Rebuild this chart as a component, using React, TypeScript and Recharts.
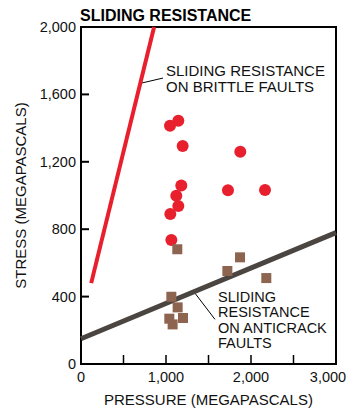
import { ScatterChart, Scatter, XAxis, YAxis, ReferenceArea, ReferenceLine, ReferenceDot } from 'recharts'

// brittle-fault measurements (red dots)
const brittleX = [1047, 1145, 1196, 1874, 1180, 1729, 2165, 1121, 1145, 1051, 1063]
const brittleY = [1414, 1444, 1294, 1260, 1060, 1031, 1033, 999, 938, 890, 736]

// anticrack-fault measurements (brown squares)
const anticrackX = [1133, 1722, 1871, 2180, 1063, 1137, 1039, 1200, 1078]
const anticrackY = [681, 552, 633, 510, 399, 336, 269, 273, 235]

// fitted resistance lines (end points)
const brittleLineX = [120, 860]
const brittleLineY = [480, 2000]
const anticrackLineX = [0, 3000]
const anticrackLineY = [150, 780]

const xTicks = [0, 500, 1000, 1500, 2000, 2500, 3000]
const xLabeled = [0, 1000, 2000, 3000]
const yTicks = [0, 400, 800, 1200, 1600, 2000]

const toPoints = (xs: number[], ys: number[]) => xs.map((x, i) => ({ x, y: ys[i] }))

const RED = '#e8202e'
const BROWN = '#8c6450'
const GRAY = '#4a4540'
const FONT = '"Liberation Sans", Arial, sans-serif'

const fmt = (v: number) => v.toLocaleString('en-US')

function XTick(props: any) {
  const { x, y, payload } = props
  const v = payload.value as number
  // last label is nudged left in the original so it stays inside the frame
  const dx = v === 3000 ? -8 : 0
  return (
    <g>
      <line x1={x} x2={x} y1={y - 5} y2={y - 14} stroke="#000" strokeWidth={1.5} />
      {xLabeled.includes(v) && (
        <text x={x + dx} y={y + 13} textAnchor="middle" fontSize={14.5} fill="#111" fontFamily={FONT}>
          {fmt(v)}
        </text>
      )}
    </g>
  )
}

function YTick(props: any) {
  const { x, y, payload } = props
  return (
    <g>
      <line x1={x + 5} x2={x + 13} y1={y} y2={y} stroke="#000" strokeWidth={2} />
      <text x={x} y={y + 5} textAnchor="end" fontSize={14.5} fill="#111" fontFamily={FONT}>
        {fmt(payload.value)}
      </text>
    </g>
  )
}

const Circle = (p: any) => <circle cx={p.cx} cy={p.cy} r={6} fill={RED} />
const Square = (p: any) => <rect x={p.cx - 5} y={p.cy - 5} width={10} height={10} fill={BROWN} />
const NoShape = () => <g />

const note = (lines: string[], step: number, size: number) => (p: any) => (
  <g>
    {lines.map((l, i) => (
      <text key={i} x={p.cx} y={p.cy + i * step} fontSize={size} fill="#111" fontFamily={FONT}>
        {l}
      </text>
    ))}
  </g>
)

export default function App() {
  return (
    <div style={{ position: 'absolute', left: 0, top: 0, width: 357, height: 419, background: '#fff' }}>
      <svg width={357} height={30} style={{ position: 'absolute', left: 0, top: 0 }}>
        <text x={80} y={21} fontSize={16} fontWeight="bold" fill="#000" fontFamily={FONT}>
          SLIDING RESISTANCE
        </text>
      </svg>
      <div style={{ position: 'absolute', left: 0, top: 0 }}>
        <ScatterChart width={357} height={419} margin={{ top: 27, right: 21, bottom: 0, left: 0 }}>
          <XAxis
            type="number"
            dataKey="x"
            domain={[0, 3000]}
            ticks={xTicks}
            interval={0}
            height={55}
            tickSize={0}
            tickMargin={5}
            tickLine={false}
            axisLine={{ stroke: '#000', strokeWidth: 2 }}
            tick={<XTick />}
            label={{ value: 'PRESSURE (MEGAPASCALS)', position: 'insideBottom', offset: 14, fontSize: 15, fill: '#111', fontFamily: FONT }}
          />
          <YAxis
            type="number"
            dataKey="y"
            domain={[0, 2000]}
            ticks={yTicks}
            interval={0}
            width={81}
            tickSize={0}
            tickMargin={5}
            tickLine={false}
            axisLine={{ stroke: '#000', strokeWidth: 2 }}
            tick={<YTick />}
            label={{ value: 'STRESS (MEGAPASCALS)', angle: -90, position: 'insideLeft', offset: 21, fontSize: 15, fill: '#111', fontFamily: FONT, style: { textAnchor: 'middle' } }}
          />
          <ReferenceArea x1={0} x2={3000} y1={0} y2={2000} fill="none" stroke="#000" strokeWidth={2} />
          <Scatter
            data={toPoints(anticrackLineX, anticrackLineY)}
            line={{ stroke: GRAY, strokeWidth: 5 }}
            shape={NoShape}
            isAnimationActive={false}
          />
          <Scatter
            data={toPoints(brittleLineX, brittleLineY)}
            line={{ stroke: RED, strokeWidth: 4 }}
            shape={NoShape}
            isAnimationActive={false}
          />
          <Scatter data={toPoints(brittleX, brittleY)} shape={Circle} isAnimationActive={false} />
          <Scatter data={toPoints(anticrackX, anticrackY)} shape={Square} isAnimationActive={false} />
          <ReferenceLine segment={[{ x: 718, y: 1668 }, { x: 965, y: 1697 }]} stroke="#000" strokeWidth={1} />
          <ReferenceLine segment={[{ x: 1341, y: 420 }, { x: 1576, y: 265 }]} stroke="#000" strokeWidth={1} />
          <ReferenceDot x={1000} y={1709} r={0} shape={note(['SLIDING RESISTANCE', 'ON BRITTLE FAULTS'], 16, 15)} />
          <ReferenceDot x={1612} y={368} r={0} shape={note(['SLIDING', 'RESISTANCE', 'ON ANTICRACK', 'FAULTS'], 15.5, 14.5)} />
        </ScatterChart>
      </div>
    </div>
  )
}
